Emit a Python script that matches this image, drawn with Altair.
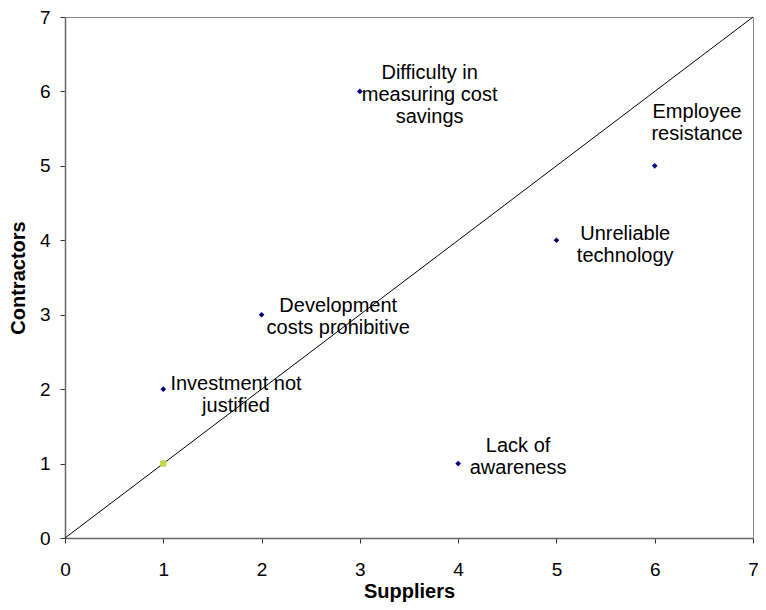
import altair as alt
import pandas as pd

# Main series: barriers (Suppliers vs Contractors)
labels = [
    "Investment not\njustified",
    "Development\ncosts prohibitive",
    "Difficulty in\nmeasuring cost\nsavings",
    "Lack of\nawareness",
    "Unreliable\ntechnology",
    "Employee\nresistance",
]
suppliers = [1, 2, 3, 4, 5, 6]
contractors = [2, 3, 6, 1, 4, 5]

# label anchor positions (data units)
label_x = [1.74, 2.78, 3.71, 4.61, 5.70, 6.43]
label_y = [1.99, 3.03, 6.17, 1.15, 4.00, 5.64]

# second series point
extra_x = [1]
extra_y = [1]

# diagonal reference
diag_x = [0, 7]
diag_y = [0, 7]

df = pd.DataFrame({
    "Suppliers": suppliers,
    "Contractors": contractors,
    "label": labels,
    "lx": label_x,
    "ly": label_y,
})
df_extra = pd.DataFrame({"Suppliers": extra_x, "Contractors": extra_y})
df_diag = pd.DataFrame({"Suppliers": diag_x, "Contractors": diag_y})

FONT = "Liberation Sans"

xscale = alt.Scale(domain=[0, 7], nice=False, zero=True)
yscale = alt.Scale(domain=[0, 7], nice=False, zero=True)

xaxis = alt.Axis(
    values=[0, 1, 2, 3, 4, 5, 6, 7], format="d", grid=False, title="Suppliers",
    labelFont=FONT, labelFontSize=19, labelColor="black", labelPadding=17,
    titleFont=FONT, titleFontSize=20, titleFontWeight="bold", titleColor="black",
    titlePadding=2, domainColor="#666666", domainWidth=1.5, tickColor="#333333",
    tickSize=5, labelFlush=False,
)
yaxis = alt.Axis(
    values=[0, 1, 2, 3, 4, 5, 6, 7], format="d", grid=False, title="Contractors",
    labelFont=FONT, labelFontSize=19, labelColor="black", labelPadding=10,
    titleFont=FONT, titleFontSize=20, titleFontWeight="bold", titleColor="black",
    titlePadding=11, domainColor="#666666", domainWidth=1.5, tickColor="#333333",
    tickSize=5, labelFlush=False,
)

diag = alt.Chart(df_diag).mark_line(color="black", strokeWidth=1).encode(
    x=alt.X("Suppliers:Q", scale=xscale, axis=xaxis),
    y=alt.Y("Contractors:Q", scale=yscale, axis=yaxis),
)

pts = alt.Chart(df).mark_point(
    shape="diamond", filled=True, color="#000080", size=32, opacity=1
).encode(
    x=alt.X("Suppliers:Q", scale=xscale),
    y=alt.Y("Contractors:Q", scale=yscale),
)

extra = alt.Chart(df_extra).mark_point(
    shape="square", filled=True, color="#b8e040", size=28, opacity=1,
    stroke="#d0c040", strokeWidth=0.8,
).encode(
    x=alt.X("Suppliers:Q", scale=xscale),
    y=alt.Y("Contractors:Q", scale=yscale),
)

txt = alt.Chart(df).mark_text(
    font=FONT, fontSize=20, color="black", align="center",
    baseline="alphabetic", lineBreak="\n", lineHeight=22,
).encode(
    x=alt.X("lx:Q", scale=xscale),
    y=alt.Y("ly:Q", scale=yscale),
    text="label:N",
)

chart = alt.layer(diag, pts, extra, txt).properties(
    width=688, height=521,
    padding={"left": 57, "top": 9, "right": 5, "bottom": 64},
    autosize=alt.AutoSizeParams(type="none"),
    background="white",
).configure_view(stroke="#888888", strokeWidth=1)

chart.save("out.html", embed_options={"renderer": "svg", "actions": False})
